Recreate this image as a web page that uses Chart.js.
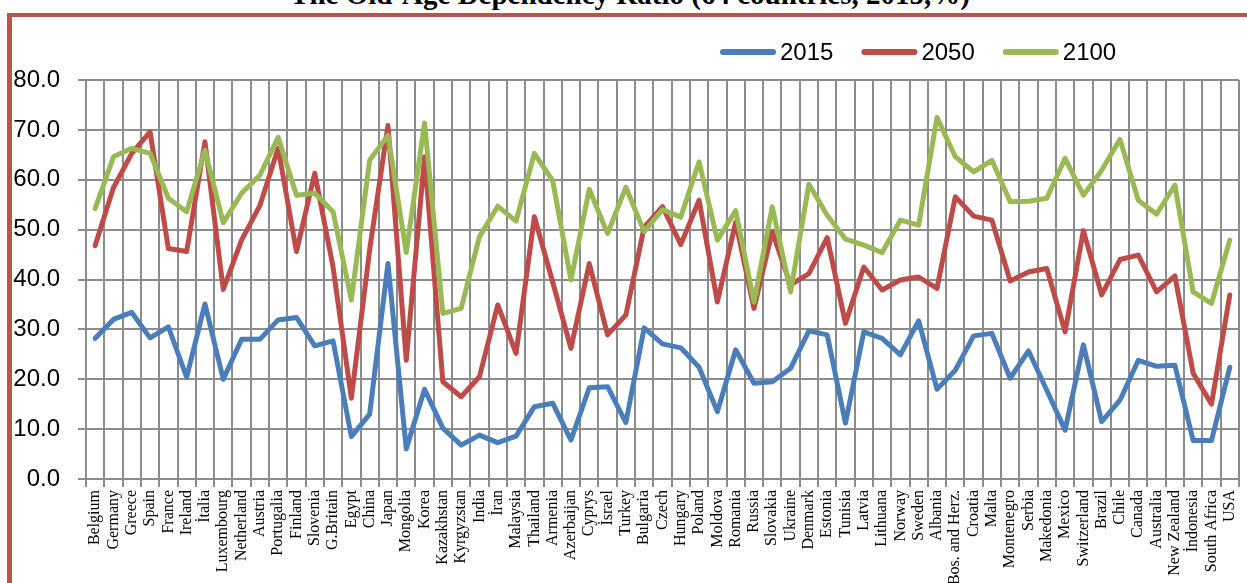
<!DOCTYPE html>
<html lang="en">
<head>
  <meta charset="UTF-8">
  <title>The Old-Age Dependency Ratio</title>
  <script src="https://cdn.jsdelivr.net/npm/chart.js"></script>
  <style>
    body {
      margin: 0;
      background: white;
      overflow: hidden;
      width: 1247px;
      height: 583px;
      position: relative;
    }
    .frame {
      position: absolute;
      left: 7px;
      top: 13px;
      width: 1300px;
      height: 600px;
      border-left: 5px solid #c0504d;
      border-top: 4px solid #c0504d;
    }
    .title {
      position: absolute;
      left: 0;
      width: 1260px;
      top: -20px;
      text-align: center;
      font: bold 29px 'Liberation Serif', serif;
      line-height: 29px;
      white-space: nowrap;
    }
    .wrap {
      position: absolute;
      left: 0;
      top: 0;
    }
  </style>
</head>
<body>
  <div class="frame"></div>
  <div class="title">The Old-Age Dependency Ratio (64 countries, 2015,%)</div>
  <div class="wrap"><canvas id="lineChart" width="1252" height="583"></canvas></div>

  <script>
    const countries = ['Belgium', 'Germany', 'Greece', 'Spain', 'France', 'Ireland', 'İtalia', 'Luxembourg',
      'Netherland', 'Austria', 'Portugalia', 'Finland', 'Slovenia', 'G.Britain', 'Egypt', 'China', 'Japan',
      'Mongolia', 'Korea', 'Kazakhstan', 'Kyrgyzstan', 'India', 'İran', 'Malaysia', 'Thailand', 'Armenia',
      'Azerbaijan', 'Cyprys', 'İsrael', 'Turkey', 'Bulgaria', 'Czech', 'Hungary', 'Poland', 'Moldova',
      'Romania', 'Russia', 'Slovakia', 'Ukraine', 'Denmark', 'Estonia', 'Tunisia', 'Latvia', 'Lithuana',
      'Norway', 'Sweden', 'Albania', 'Bos. and Herz.', 'Croatia', 'Malta', 'Montenegro', 'Serbia',
      'Makedonia', 'Mexico', 'Switzerland', 'Brazil', 'Chile', 'Canada', 'Australia', 'New Zealand',
      'İndonesia', 'South Africa', 'USA'];

    const years = ['2015', '2050', '2100'];

    const ratio2015 = [28.2, 32.0, 33.4, 28.3, 30.5, 20.4, 35.1, 20.0, 28.0, 28.0, 31.9, 32.4, 26.7, 27.7,
      8.5, 13.0, 43.2, 6.0, 18.0, 10.2, 6.8, 8.8, 7.3, 8.6, 14.5, 15.2, 7.8, 18.3, 18.5, 11.3, 30.3, 27.1,
      26.3, 22.4, 13.5, 25.9, 19.2, 19.5, 22.2, 29.7, 28.9, 11.2, 29.5, 28.2, 24.9, 31.7, 18.0, 21.8, 28.7,
      29.2, 20.2, 25.7, 17.8, 9.8, 26.9, 11.5, 15.8, 23.8, 22.6, 22.8, 7.7, 7.7, 22.4];

    const ratio2050 = [46.8, 58.4, 65.3, 69.6, 46.2, 45.6, 67.6, 38.0, 47.9, 54.8, 66.3, 45.6, 61.3, 42.5,
      16.2, 46.0, 70.9, 23.8, 64.6, 19.5, 16.5, 20.5, 34.9, 25.2, 52.6, 39.5, 26.2, 43.2, 28.9, 32.9, 50.5,
      54.6, 47.0, 55.9, 35.5, 51.5, 34.2, 49.6, 38.9, 41.2, 48.4, 31.2, 42.5, 37.9, 39.9, 40.5, 38.2, 56.6,
      52.7, 51.9, 39.7, 41.5, 42.2, 29.5, 49.8, 36.9, 44.0, 44.9, 37.5, 40.7, 21.2, 15.0, 36.9];

    const ratio2100 = [54.2, 64.6, 66.3, 65.3, 56.3, 53.6, 65.9, 51.4, 57.3, 60.9, 68.5, 56.9, 57.3, 53.6,
      35.9, 63.9, 68.9, 45.4, 71.4, 33.2, 34.2, 48.6, 54.7, 51.7, 65.3, 59.8, 39.9, 58.1, 49.2, 58.5, 49.6,
      54.0, 52.5, 63.6, 47.9, 53.8, 35.5, 54.6, 37.5, 59.1, 52.9, 48.1, 46.9, 45.4, 51.9, 50.9, 72.5, 64.6,
      61.6, 63.9, 55.6, 55.7, 56.3, 64.3, 56.9, 61.9, 68.1, 55.9, 53.1, 58.9, 37.5, 35.2, 47.9];

    const yTicks = [0, 10, 20, 30, 40, 50, 60, 70, 80];

    const colors = ['#4a7ebb', '#be4b48', '#98b954'];
    const gridGray = '#8c8c8c';

    // legend drawn by hand so it sits right of centre like the original
    const lineLegend = {
      id: 'lineLegend',
      afterDraw(chart) {
        const ctx = chart.ctx;
        ctx.save();
        ctx.font = "24px 'Liberation Sans', sans-serif";
        ctx.textBaseline = 'middle';
        let x = 720;
        const y = 52;
        chart.data.datasets.forEach(ds => {
          ctx.strokeStyle = ds.borderColor;
          ctx.lineWidth = 6;
          ctx.lineCap = 'round';
          ctx.beginPath();
          ctx.moveTo(x + 3, y);
          ctx.lineTo(x + 53, y);
          ctx.stroke();
          ctx.fillStyle = '#000';
          ctx.fillText(ds.label, x + 60, y + 1);
          x += 60 + ctx.measureText(ds.label).width + 28;
        });
        ctx.restore();
      }
    };

    const ctx = document.getElementById('lineChart').getContext('2d');
    new Chart(ctx, {
      type: 'line',
      data: {
        labels: countries,
        datasets: [
          { label: years[0], data: ratio2015, borderColor: colors[0], order: 3 },
          { label: years[1], data: ratio2050, borderColor: colors[1], order: 2 },
          { label: years[2], data: ratio2100, borderColor: colors[2], order: 1 }
        ]
      },
      options: {
        responsive: false,
        animation: false,
        layout: { padding: { top: 80, right: 1, left: 0, bottom: 0 } },
        elements: {
          line: { borderWidth: 5, tension: 0, borderJoinStyle: 'round', borderCapStyle: 'round', fill: false },
          point: { radius: 0, hoverRadius: 0 }
        },
        plugins: {
          legend: { display: false },
          tooltip: { enabled: false }
        },
        scales: {
          x: {
            offset: true,
            grid: { offset: true, color: gridGray, lineWidth: 2, tickLength: 8 },
            border: { color: gridGray, width: 2 },
            ticks: {
              autoSkip: false,
              minRotation: 90,
              maxRotation: 90,
              padding: 3,
              color: '#000',
              font: { family: "'Liberation Serif', serif", size: 16 }
            },
            afterFit(scale) { scale.height = 104; }
          },
          y: {
            min: yTicks[0],
            max: yTicks[yTicks.length - 1],
            afterBuildTicks(scale) { scale.ticks = yTicks.map(v => ({ value: v })); },
            grid: { color: gridGray, lineWidth: 2, tickLength: 8 },
            border: { color: gridGray, width: 2 },
            ticks: {
              padding: 18,
              color: '#000',
              font: { family: "'Liberation Sans', sans-serif", size: 24 },
              callback: v => v.toFixed(1)
            },
            afterFit(scale) { scale.width = 86; }
          }
        }
      },
      plugins: [lineLegend]
    });
  </script>
</body>
</html>
